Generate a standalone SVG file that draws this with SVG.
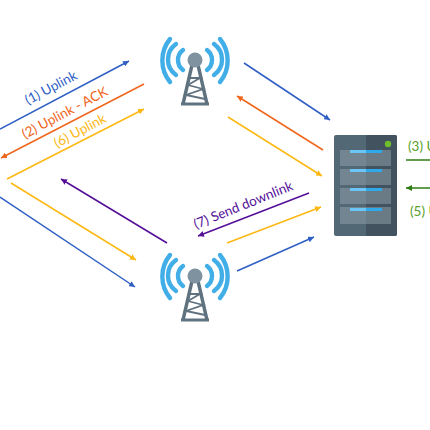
<svg xmlns="http://www.w3.org/2000/svg" width="430" height="430" viewBox="0 0 430 430">
<style>
.c{fill:none;stroke-width:1.5}
.t{font-family:Lato,"Open Sans",sans-serif;font-size:13.500px}
.arc{fill:none;stroke:#42aee8;stroke-width:4.400;stroke-linecap:round}
.tw{fill:none;stroke:#5f727f;stroke-width:3.400}
.tb{fill:none;stroke:#5f727f;stroke-width:1.800}
.blue{stroke:#2f5fc4}.or{stroke:#f0661c}.ye{stroke:#fdb813}.pu{stroke:#540f98}.gr{stroke:#2e7d12}
.bar{fill:#2fa9ea}.barl{fill:#6cc6f5}.slot{fill:#8c9ca7;opacity:.55}
</style>
<defs>
<marker id="mb" markerWidth="7" markerHeight="6" refX="6" refY="3" orient="auto" markerUnits="userSpaceOnUse"><path d="M0 0L6 3L0 6z" fill="#2f5fc4"/></marker>
<marker id="mo" markerWidth="7" markerHeight="6" refX="6" refY="3" orient="auto" markerUnits="userSpaceOnUse"><path d="M0 0L6 3L0 6z" fill="#f0661c"/></marker>
<marker id="my" markerWidth="7" markerHeight="6" refX="6" refY="3" orient="auto" markerUnits="userSpaceOnUse"><path d="M0 0L6 3L0 6z" fill="#fdb813"/></marker>
<marker id="mp" markerWidth="7" markerHeight="6" refX="6" refY="3" orient="auto" markerUnits="userSpaceOnUse"><path d="M0 0L6 3L0 6z" fill="#540f98"/></marker>
<marker id="mg" markerWidth="7" markerHeight="6" refX="6" refY="3" orient="auto" markerUnits="userSpaceOnUse"><path d="M0 0L6 3L0 6z" fill="#2e7d12"/></marker>
<g id="tower">
<path class="arc" d="M-12-20A12.500 12.500 0 0 0-12 0M-19-26A19 19 0 0 0-19 5M-25-31A34 34 0 0 0-25 12"/>
<path class="arc" d="M12-20A12.500 12.500 0 0 1 12 0M19-26A19 19 0 0 1 19 5M25-31A34 34 0 0 1 25 12"/>
<path class="tw" d="M-3-5L-12 34M3-5L12 34"/>
<path class="tb" d="M-5 8H5L-7 15L8 19L-9 25L10 29"/>
<path d="M-14 34H14" stroke="#5f727f" stroke-width="3"/>
<circle cy="-10" r="7.500" fill="#7e929f"/>
</g>
</defs>
<g id="connectors">
<path class="c blue" marker-end="url(#mb)" d="M0 129L129 61"/>
<path class="c or" marker-end="url(#mo)" d="M144 84L1 158"/>
<path class="c ye" marker-end="url(#my)" d="M7 179L144 109"/>
<path class="c ye" marker-end="url(#my)" d="M11 183L136 260"/>
<path class="c blue" marker-end="url(#mb)" d="M0 197L135 287"/>
<path class="c pu" marker-end="url(#mp)" d="M167 243L61 179"/>
<path class="c pu" marker-end="url(#mp)" d="M309 193L198 236"/>
<path class="c ye" marker-end="url(#my)" d="M227 243L321 207"/>
<path class="c blue" marker-end="url(#mb)" d="M237 271L314 237"/>
<path class="c blue" marker-end="url(#mb)" d="M244 63L330 120"/>
<path class="c or" marker-end="url(#mo)" d="M323 150L237 96"/>
<path class="c ye" marker-end="url(#my)" d="M228 117L322 176"/>
<path class="c gr" d="M406 160H430"/>
<path class="c gr" marker-end="url(#mg)" d="M430 188H406"/>
</g>
<g id="labels" class="t">
<text transform="translate(28 105) rotate(-28)" fill="#2f5fc4">(1) Uplink</text>
<text transform="translate(25 139) rotate(-28)" fill="#f0661c">(2) Uplink - ACK</text>
<text transform="translate(57 148) rotate(-28)" fill="#fdb813">(6) Uplink</text>
<text transform="translate(196 229) rotate(-22)" fill="#540f98">(7) Send downlink</text>
<text x="408" y="151" fill="#5aa02c">(3) U</text>
<text x="410" y="216" fill="#5aa02c">(5) U</text>
</g>
<use id="gateway-top" href="#tower" x="195" y="70"/>
<use id="gateway-bottom" href="#tower" x="195" y="286"/>
<g id="server">
<rect x="334" y="135" width="63" height="101" rx="2" fill="#526975"/>
<rect x="366" y="135" width="31" height="101" rx="2" fill="#42525e"/>
<rect x="340" y="150" width="51" height="16" class="slot"/>
<rect x="340" y="169" width="51" height="16" class="slot"/>
<rect x="340" y="188" width="51" height="16" class="slot"/>
<rect x="340" y="207" width="51" height="17" class="slot"/>
<rect x="350" y="150" width="32" height="3" class="bar"/>
<rect x="350" y="169" width="32" height="3" class="bar"/>
<rect x="350" y="188" width="32" height="3" class="bar"/>
<rect x="350" y="208" width="32" height="3" class="bar"/>
<rect x="350" y="150" width="16" height="3" class="barl"/>
<rect x="350" y="169" width="16" height="3" class="barl"/>
<rect x="350" y="188" width="16" height="3" class="barl"/>
<rect x="350" y="208" width="16" height="3" class="barl"/>
<circle cx="388" cy="144" r="3.200" fill="#6fbf2c"/>
</g>
</svg>
